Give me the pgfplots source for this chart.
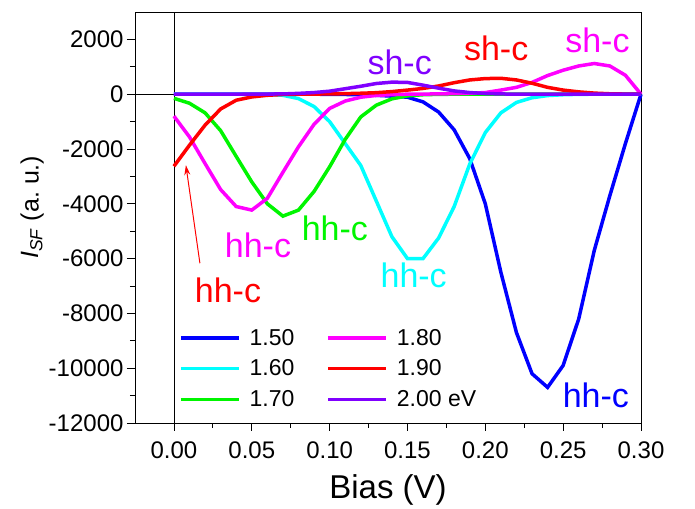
\documentclass[border=0pt]{standalone}
\usepackage{fontspec}
\setmainfont{Liberation Sans}
\usepackage{pgfplots}
\pgfplotsset{compat=1.18}
\usetikzlibrary{arrows.meta}
\definecolor{cBlue}{RGB}{0,0,255}
\definecolor{cCyan}{RGB}{0,255,255}
\definecolor{cGreen}{RGB}{0,245,0}
\definecolor{cMag}{RGB}{255,0,255}
\definecolor{cRed}{RGB}{255,0,0}
\definecolor{cViol}{RGB}{128,0,255}
\begin{document}
\begin{tikzpicture}
\begin{axis}[
    scale only axis,
    width=506pt, height=411pt,
    xmin=-0.025, xmax=0.30,
    ymin=-12000, ymax=3000,
    xtick={0,0.05,...,0.30},
    ytick={-12000,-10000,...,2000},
    minor x tick num=1,
    minor y tick num=1,
    xtick pos=bottom, ytick pos=left,
    tick align=outside,
    major tick length=8pt, minor tick length=5pt,
    xticklabel style={/pgf/number format/fixed, /pgf/number format/fixed zerofill, /pgf/number format/precision=2, yshift=-7pt},
    yticklabel style={/pgf/number format/fixed, /pgf/number format/1000 sep={}},
    /pgf/number format/assume math mode=true,
    ticklabel style={font=\fontsize{24}{28}\selectfont},
    scaled ticks=false,
    xlabel={Bias (V)},
    ylabel={\textit{I}\textsubscript{\textit{SF}} (a.~u.)},
    xlabel style={font=\fontsize{33}{38}\selectfont, yshift=-9pt},
    ylabel style={at={(ticklabel cs:0.525)}, font=\fontsize{25}{30}\selectfont, yshift=-2pt},
    axis line style={black, line width=0.8pt},
    every tick/.style={black, line width=0.8pt},
    clip=false,
    legend columns=2,
    legend cell align=left,
    legend style={at={(0.081,0.238)}, anchor=north west, draw=none, fill=none,
        font=\fontsize{23}{27}\selectfont, row sep=9pt,
        /tikz/every odd column/.append style={column sep=7pt},
        /tikz/every even column/.append style={column sep=30pt}},
    legend image code/.code={\draw[#1] (0pt,0pt) -- (58pt,0pt);},
]
% zero lines
\addplot[black, line width=0.8pt, forget plot] coordinates {(0,-12000) (0,3000)};
\addplot[black, line width=0.8pt, forget plot] coordinates {(-0.025,0) (0.30,0)};

% 1.50
\addplot[cBlue, line width=3.5pt, forget plot] coordinates {
(0.00,0) (0.01,0) (0.02,0) (0.03,0) (0.04,0) (0.05,0) (0.06,0) (0.07,0) (0.08,0) (0.09,0)
(0.10,-5) (0.11,-10) (0.12,-20) (0.13,-40) (0.14,-70) (0.15,-110) (0.16,-280) (0.17,-650)
(0.18,-1300) (0.19,-2350) (0.20,-4000) (0.21,-6500) (0.22,-8700) (0.23,-10200) (0.24,-10700)
(0.25,-9900) (0.26,-8200) (0.27,-5700) (0.28,-3700) (0.29,-1800) (0.30,0)};
% 1.60
\addplot[cCyan, line width=3.5pt, forget plot] coordinates {
(0.00,0) (0.01,0) (0.02,0) (0.03,0) (0.04,0) (0.05,-5) (0.06,-10) (0.07,-40) (0.08,-160)
(0.09,-450) (0.10,-1000) (0.11,-1800) (0.12,-2600) (0.13,-3900) (0.14,-5200) (0.15,-6000)
(0.16,-6000) (0.17,-5250) (0.18,-4100) (0.19,-2550) (0.20,-1400) (0.21,-680) (0.22,-300)
(0.23,-130) (0.24,-50) (0.25,-20) (0.26,-5) (0.27,0) (0.28,0) (0.29,0) (0.30,0)};
% 1.70
\addplot[cGreen, line width=3.5pt, forget plot] coordinates {
(0.00,-150) (0.01,-330) (0.02,-680) (0.03,-1330) (0.04,-2270) (0.05,-3200) (0.06,-4000)
(0.07,-4450) (0.08,-4230) (0.09,-3550) (0.10,-2650) (0.11,-1650) (0.12,-830) (0.13,-400)
(0.14,-170) (0.15,-60) (0.16,-20) (0.17,-5) (0.18,0) (0.19,0) (0.20,0) (0.21,0) (0.22,0)
(0.23,0) (0.24,0) (0.25,0) (0.26,0) (0.27,0) (0.28,0) (0.29,0) (0.30,0)};
% 1.80
\addplot[cMag, line width=3.5pt, forget plot] coordinates {
(0.00,-800) (0.01,-1560) (0.02,-2530) (0.03,-3480) (0.04,-4100) (0.05,-4230) (0.06,-3800)
(0.07,-2850) (0.08,-1920) (0.09,-1100) (0.10,-520) (0.11,-250) (0.12,-110) (0.13,-45)
(0.14,-15) (0.15,0) (0.16,5) (0.17,10) (0.18,20) (0.19,35) (0.20,60) (0.21,150) (0.22,250)
(0.23,430) (0.24,680) (0.25,875) (0.26,1030) (0.27,1120) (0.28,1030) (0.29,690) (0.30,0)};
% 1.90
\addplot[cRed, line width=3.5pt, forget plot] coordinates {
(0.00,-2630) (0.01,-1860) (0.02,-1130) (0.03,-540) (0.04,-220) (0.05,-100) (0.06,-40)
(0.07,-10) (0.08,0) (0.09,5) (0.10,10) (0.11,20) (0.12,35) (0.13,55) (0.14,95) (0.15,150)
(0.16,210) (0.17,300) (0.18,420) (0.19,520) (0.20,570) (0.21,580) (0.22,520) (0.23,400)
(0.24,250) (0.25,150) (0.26,85) (0.27,40) (0.28,15) (0.29,5) (0.30,0)};
% 2.00
\addplot[cViol, line width=3.5pt, forget plot] coordinates {
(0.00,0) (0.01,0) (0.02,0) (0.03,0) (0.04,0) (0.05,0) (0.06,5) (0.07,10) (0.08,30)
(0.09,60) (0.10,110) (0.11,200) (0.12,290) (0.13,390) (0.14,440) (0.15,430) (0.16,330)
(0.17,220) (0.18,120) (0.19,60) (0.20,25) (0.21,10) (0.22,0) (0.23,0) (0.24,0) (0.25,0)
(0.26,0) (0.27,0) (0.28,0) (0.29,0) (0.30,0)};

\addlegendimage{cBlue, line width=3.5pt}\addlegendentry{1.50}
\addlegendimage{cMag, line width=3.5pt}\addlegendentry{1.80}
\addlegendimage{cCyan, line width=3.5pt}\addlegendentry{1.60}
\addlegendimage{cRed, line width=3.5pt}\addlegendentry{1.90}
\addlegendimage{cGreen, line width=3.5pt}\addlegendentry{1.70}
\addlegendimage{cViol, line width=3.5pt}\addlegendentry{2.00 eV}

% annotations
\begin{scope}[every node/.style={font=\fontsize{34}{38}\selectfont, inner sep=0pt}]
\node[cViol] at (axis cs:0.145,1170) {sh-c};
\node[cRed] at (axis cs:0.207,1680) {sh-c};
\node[cMag] at (axis cs:0.272,1970) {sh-c};
\node[cMag] at (axis cs:0.054,-5510) {hh-c};
\node[cGreen] at (axis cs:0.1034,-4890) {hh-c};
\node[cCyan] at (axis cs:0.154,-6600) {hh-c};
\node[cBlue] at (axis cs:0.271,-10985) {hh-c};
\node[cRed] at (axis cs:0.0347,-7150) {hh-c};
\end{scope}
\draw[cRed, line width=1pt, -{Stealth[length=10pt,width=6pt]}] (axis cs:0.0167,-6170) -- (axis cs:0.0077,-2590);
\end{axis}
\path ([shift={(-135pt,-81pt)}]current axis.south west) rectangle ([shift={(54pt,12pt)}]current axis.north east);
\end{tikzpicture}
\end{document}
